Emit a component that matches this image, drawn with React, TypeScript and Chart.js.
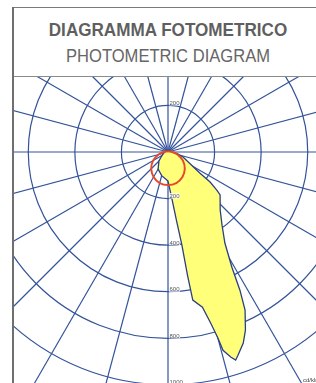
import { useEffect, useRef } from 'react';
import { Chart, registerables } from 'chart.js';

Chart.register(...registerables);

// ---- data ----
const titleMain = 'DIAGRAMMA FOTOMETRICO';
const titleSub = 'PHOTOMETRIC DIAGRAM';
const unitLabel = 'cd/klm';

const angleStep = 0.5; // degrees per radar label
const spokeEvery = 15; // degrees between radial lines
const ringTicks = [200, 400, 600, 800, 1000, 1200, 1400];
const ringMax = 1400;

// gamma angle from nadir (deg), positive toward the right
const yellowAngles = [-180, -90, -60, -45, -30, -15, 0, 5, 7, 8.5, 9, 9.5, 12.5, 14, 15, 15.5, 17, 18, 19, 21.5, 23.5, 26, 27.5, 29, 32, 36.5, 42, 50.5, 52, 54.5, 56.5, 71.5, 80, 90, 120];
const yellowValues = [5, 15, 30, 55, 85, 105, 125, 207, 294, 404, 536, 645, 683, 757, 826, 884, 921, 940, 923, 882, 834, 755, 669, 566, 461, 390, 335, 290, 267, 222, 165, 68, 40, 20, 10];

const redAngles = [-180, -120, -90, -75, -60, -45, -30, -15, 0, 15, 30, 45, 60, 75, 90, 120];
const redValues = [3, 5, 18, 42, 74, 102, 124, 138, 142, 138, 124, 102, 74, 42, 18, 5];

// ---- helpers ----
const labelCount = Math.round(360 / angleStep);
const radarLabels = Array.from({ length: labelCount }, (_, i) => String(i * angleStep));

function toRadar(angles: number[], values: number[]) {
  const arr: (number | null)[] = new Array(labelCount).fill(null);
  angles.forEach((a, k) => {
    const idx = ((Math.round(-a / angleStep) % labelCount) + labelCount) % labelCount;
    arr[idx] = values[k];
  });
  return arr;
}

const gridColor = '#34539a';

const ringLabelPlugin = {
  id: 'ringLabels',
  afterDraw(chart: any) {
    const s = chart.scales.r;
    const ctx = chart.ctx;
    ctx.save();
    ctx.font = '6px "Liberation Sans", Arial, sans-serif';
    ctx.textBaseline = 'alphabetic';
    ctx.textAlign = 'left';
    ringTicks.forEach((v) => {
      const d = s.getDistanceFromCenterForValue(v);
      const txt = String(v);
      const w = ctx.measureText(txt).width;
      [-1, 1].forEach((sign) => {
        const y = s.yCenter + sign * d;
        const x = s.xCenter + 1;
        ctx.fillStyle = 'rgba(255,255,255,0.85)';
        ctx.fillRect(x, y - 5.5, w + 1, 5.5);
        ctx.fillStyle = '#555';
        ctx.fillText(txt, x + 0.5, y - 0.5);
      });
    });
    ctx.restore();
  },
};

export default function App() {
  const canvasRef = useRef<HTMLCanvasElement | null>(null);

  useEffect(() => {
    if (!canvasRef.current) return;
    const chart = new Chart(canvasRef.current, {
      type: 'radar',
      data: {
        labels: radarLabels,
        datasets: [
          {
            data: toRadar(redAngles, redValues),
            backgroundColor: 'rgba(0,0,0,0)',
            borderColor: '#e8482a',
            borderWidth: 2,
            fill: false,
            spanGaps: true,
            pointRadius: 0,
            tension: 0.3,
          },
          {
            data: toRadar(yellowAngles, yellowValues),
            backgroundColor: '#ffff7a',
            borderColor: '#2b3f82',
            borderWidth: 1.3,
            fill: true,
            spanGaps: true,
            pointRadius: 0,
            tension: 0,
          },
        ],
      },
      options: {
        responsive: false,
        animation: false,
        devicePixelRatio: 1,
        layout: { padding: 0 },
        plugins: { legend: { display: false }, tooltip: { enabled: false } },
        scales: {
          r: {
            min: 0,
            max: ringMax,
            startAngle: 180,
            z: 1,
            ticks: { stepSize: 200, display: false },
            grid: { circular: true, color: gridColor, lineWidth: 1.2 },
            angleLines: {
              color: (c: any) => ((c.index * angleStep) % spokeEvery === 0 ? gridColor : 'rgba(0,0,0,0)'),
              lineWidth: (c: any) => ((c.index * angleStep) % spokeEvery === 0 ? 1.2 : 0),
            },
            pointLabels: { display: false },
          },
        },
      } as any,
      plugins: [ringLabelPlugin],
    });
    return () => chart.destroy();
  }, []);

  return (
    <div style={{ position: 'absolute', left: 0, top: 0, width: 316, height: 383, overflow: 'hidden', background: '#fff', fontFamily: '"Liberation Sans", Arial, sans-serif' }}>
      <div style={{ position: 'absolute', left: 13, top: 76, width: 303, height: 307, overflow: 'hidden' }}>
        <canvas ref={canvasRef} width={652} height={652} style={{ position: 'absolute', left: -171, top: -250, width: 652, height: 652 }} />
      </div>
      <div style={{ position: 'absolute', left: 13, top: 7, width: 320, height: 70, boxSizing: 'border-box', borderTop: '1px solid #7a7a7a', borderBottom: '1px solid #8a8a8a', background: '#fff' }} />
      <div style={{ position: 'absolute', left: 12, top: 7, width: 2, height: 376, background: '#6f6f6f' }} />
      <div style={{ position: 'absolute', left: 13, top: 21, width: 310, textAlign: 'center', fontSize: 18, lineHeight: '18px', fontWeight: 'bold', color: '#5f5f5f', transform: 'scaleX(0.95)', whiteSpace: 'nowrap' }}>{titleMain}</div>
      <div style={{ position: 'absolute', left: 13, top: 47, width: 310, textAlign: 'center', fontSize: 18, lineHeight: '18px', color: '#666', transform: 'scaleX(0.92)', whiteSpace: 'nowrap' }}>{titleSub}</div>
      <div style={{ position: 'absolute', left: 303, top: 377, fontSize: 6, lineHeight: '6px', color: '#444', whiteSpace: 'nowrap' }}>{unitLabel}</div>
    </div>
  );
}
